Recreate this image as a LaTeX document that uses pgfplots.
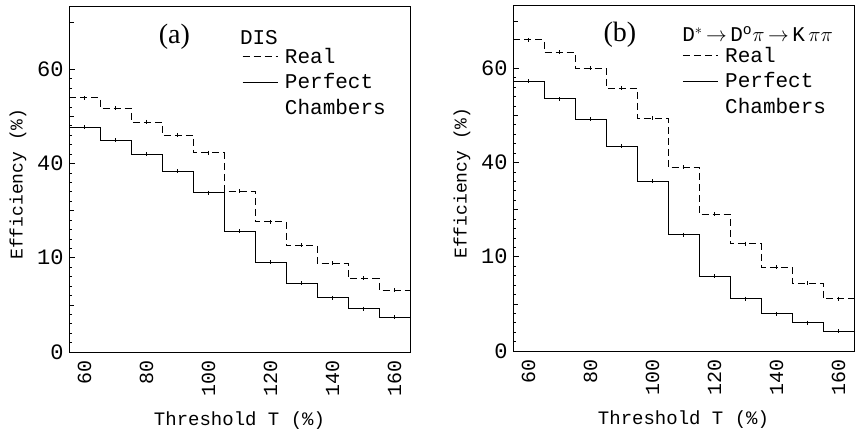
\documentclass[border=0pt]{standalone}
\usepackage{fontspec}
\setmainfont{Liberation Mono}
\newfontfamily\serif{Liberation Serif}
\usepackage{pgfplots}
\pgfplotsset{compat=1.18}
\usepackage{pgfplotstable}

\pgfplotstableread{
x y
55 53.9
60 53.9
70 51.7
80 48.8
90 46.0
100 42.3
110 34.1
120 27.6
130 22.6
140 18.8
150 15.6
160 13.1
165 13.1
}\realA
\pgfplotstableread{
x y
55 47.7
60 47.7
70 44.9
80 41.9
90 38.3
100 33.8
110 25.6
120 19.0
130 14.6
140 11.5
150 9.2
160 7.4
165 7.4
}\perfA
\pgfplotstableread{
x y
55 66.0
60 66.0
70 63.4
80 60.0
90 55.8
100 49.4
110 39.0
120 29.0
130 22.8
140 17.8
150 14.4
160 11.1
165 11.1
}\realB
\pgfplotstableread{
x y
55 57.2
60 57.2
70 53.5
80 49.2
90 43.4
100 36.0
110 24.7
120 15.9
130 11.1
140 7.9
150 6.0
160 4.2
165 4.2
}\perfB

\pgfplotsset{
  eff/.style={
    scale only axis, width=341pt, height=346pt,
    xmin=55, xmax=165, ymin=0, ymax=73.4,
    xtick={60,80,...,160},
    xticklabel style={rotate=90, anchor=east, xshift=-5pt, font=\fontsize{20}{20}\selectfont},
    major x tick style={draw=none},
    ytick={0,20,40,60}, yticklabels={0,10,40,60},
    yticklabel style={font=\fontsize{22}{22}\selectfont, xshift=-2pt},
    minor y tick num=9,
    extra y ticks={10,30,50,70}, extra y tick labels={},
    extra y tick style={major tick length=5pt},
    ytick pos=left, tick align=inside,
    major tick length=6pt, minor tick length=3pt,
    every tick/.style={line width=0.7pt},
    /pgf/number format/assume math mode=true,
    axis line style={line width=0.8pt},
    xlabel={Threshold T (\%)},
    ylabel={Efficiency (\%)},
    xlabel style={at={(axis description cs:0.5,0)}, anchor=center, yshift=-69pt, font=\fontsize{19}{19}\selectfont},
    ylabel style={at={(axis description cs:0,0.5)}, anchor=center, yshift=51pt, xshift=-5pt, font=\fontsize{18}{18}\selectfont},
    legend image code/.code={\draw[#1] (0pt,0pt) -- (35pt,0pt);},
    legend style={draw=none, fill=none, anchor=north west,
      font=\fontsize{21}{23}\selectfont, inner sep=0pt, row sep=5pt,
      /tikz/every odd column/.style={column sep=5pt}},
    legend cell align=left,
  },
  realst/.style={black, line width=0.9pt, dash pattern=on 7pt off 4pt, const plot mark mid},
  perfst/.style={black, line width=0.9pt, const plot mark mid},
  errst/.style={black, only marks, mark=|, mark size=2pt, mark options={line width=0.7pt, solid}, restrict x to domain=58:162, forget plot},
}

\begin{document}
\begin{tikzpicture}
\useasboundingbox (0,0) rectangle (855pt,433pt);
\begin{axis}[eff, at={(69pt,81pt)}, anchor=south west,
  legend style={at={(rel axis cs:0.507,0.885)}}]
  \addplot[realst] table {\realA};
  \addlegendentry{Real}
  \addplot[perfst] table {\perfA};
  \addlegendentry{Perfect}
  \addlegendimage{empty legend}
  \addlegendentry{Chambers}
  \addplot[errst] table {\realA};
  \addplot[errst] table {\perfA};
  \node[anchor=west, inner sep=0pt, font=\fontsize{21}{21}\selectfont] at (rel axis cs:0.501,0.910) {DIS};
  \node at (axis cs:89,66.8) {\serif\fontsize{28}{28}\selectfont (a)};
\end{axis}
\begin{axis}[eff, at={(513pt,82pt)}, anchor=south west,
  legend style={at={(rel axis cs:0.496,0.885)}}]
  \addplot[realst] table {\realB};
  \addlegendentry{Real}
  \addplot[perfst] table {\perfB};
  \addlegendentry{Perfect}
  \addlegendimage{empty legend}
  \addlegendentry{Chambers}
  \addplot[errst] table {\realB};
  \addplot[errst] table {\perfB};
  \node[anchor=west, inner sep=0pt, font=\fontsize{21}{21}\selectfont] at (rel axis cs:0.496,0.916) {D$^{*}$\,$\rightarrow$\,D$^{\mathrm{o}}\pi$\,$\rightarrow$\,K\,$\pi\pi$};
  \node at (axis cs:89.5,67) {\serif\fontsize{28}{28}\selectfont (b)};
\end{axis}
\end{tikzpicture}
\end{document}
